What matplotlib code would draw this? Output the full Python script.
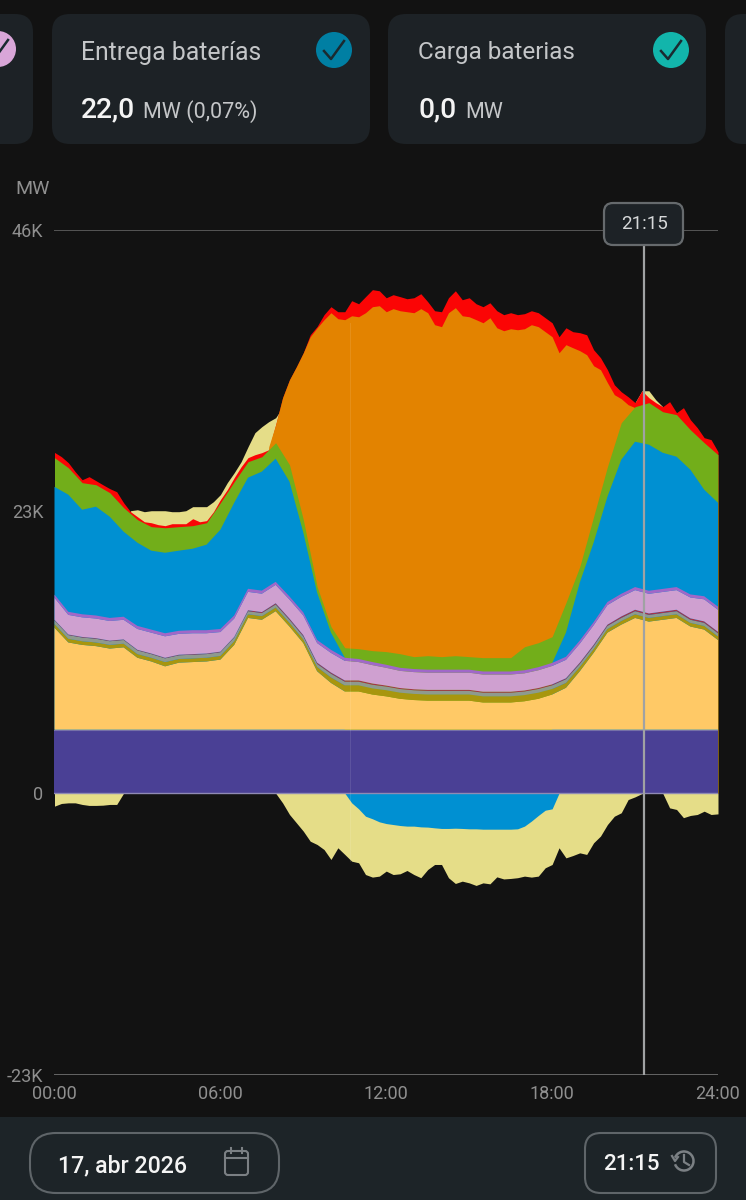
import numpy as np
import matplotlib
matplotlib.use("Agg")
import matplotlib.pyplot as plt
from matplotlib.patches import FancyBboxPatch, Circle, Arc

plt.rcParams['font.family'] = ['Roboto', 'DejaVu Sans']

# ---------- data (GW) ----------
hours_half = [h * 0.5 for h in range(49)]
hours_quarter = [h * 0.25 for h in range(97)]

nuclear = [5.18] * 49
yellow_top = [13.5, 12.3, 12.1, 12.0, 11.8, 11.9, 11.05, 10.75, 10.35, 10.65, 10.7, 10.75, 10.9, 12.1, 14.3, 14.15,
              14.85, 13.6, 12.25, 9.95, 9.0, 8.3, 8.3, 8.05, 7.9, 7.7, 7.6, 7.55, 7.55, 7.55, 7.55, 7.4,
              7.4, 7.4, 7.5, 7.7, 8.05, 8.6, 9.95, 11.45, 13.1, 13.75, 14.3, 14.0, 14.15, 14.3, 13.6, 13.35, 12.5]
olive = [.3, .3, .3, .3, .3, .3, .3, .3, .35, .3, .3, .3, .3, .3, .3, .3,
         .3, .3, .3, .35, .45, .5, .5, .5, .5, .5, .5, .5, .5, .5, .5, .5,
         .5, .5, .5, .5, .45, .4, .35, .3, .3, .3, .3, .3, .3, .3, .3, .3, .3]
gray = [.3, .3, .3, .3, .3, .3, .3, .3, .3, .3, .3, .3, .3, .3, .25, .25,
        .25, .25, .25, .25, .3, .3, .3, .3, .3, .3, .3, .3, .3, .3, .3, .3,
        .3, .3, .3, .3, .3, .3, .25, .25, .25, .25, .25, .25, .25, .25, .25, .25, .25]
dark_red = [.05, .05, .05, .05, .05, .05, .05, .05, .05, .05, .05, .05, .05, .05, .08, .08,
            .1, .1, .1, .1, .1, .1, .1, .1, .08, .08, .08, .08, .08, .08, .08, .08,
            .08, .08, .08, .08, .08, .08, .1, .1, .1, .12, .12, .12, .12, .12, .12, .12, .12]
pink = [1.8, 1.6, 1.6, 1.6, 1.6, 1.6, 1.7, 1.7, 1.75, 1.7, 1.7, 1.65, 1.6, 1.5, 1.5, 1.5,
        1.5, 1.55, 1.6, 1.6, 1.6, 1.6, 1.5, 1.5, 1.45, 1.4, 1.4, 1.4, 1.4, 1.4, 1.4, 1.4,
        1.4, 1.4, 1.4, 1.45, 1.5, 1.5, 1.55, 1.6, 1.6, 1.6, 1.6, 1.6, 1.6, 1.6, 1.7, 1.8, 1.8]
purple = [.25] * 49
blue_top = [25.0, 24.36, 23.13, 23.38, 22.56, 21.34, 20.44, 19.79, 19.62, 19.79, 19.95, 20.28, 21.5, 23.7, 25.75, 26.24,
            27.3, 25.42, 21.26, 16.36, 13.1, 11.06, np.nan, np.nan, np.nan, np.nan, np.nan, np.nan, np.nan, np.nan, np.nan, np.nan,
            np.nan, np.nan, np.nan, np.nan, 10.6, 13.1, 17.18, 20.44, 24.19, 27.21, 28.68, 28.44, 27.78, 27.46, 26.4, 24.77, 23.7]
green_top = [27.38, 26.56, 25.34, 25.17, 24.52, 23.3, 22.32, 21.75, 21.66, 21.75, 21.83, 22.07, 23.7, 25.42, 27.05, 27.46,
             28.6, 26.8, 22.32, 16.85, 13.59, 11.87, 11.79, 11.63, 11.55, 11.38, 11.14, 11.22, 11.14, 11.22, 11.14, 11.06,
             11.06, 11.06, 11.95, 12.28, 12.77, 15.55, 18.48, 22.56, 26.64, 30.23, 31.54, 31.87, 31.13, 30.89, 29.66, 28.6, 27.62]

red_top = [27.81, 27.46, 26.97, 26.23, 25.58, 25.83, 25.5, 25.17, 24.85, 24.6, 23.7, 22.97, 22.56, 22.15, 22.07, 21.91,
           21.83, 21.99, 21.99, 21.99, 22.4, 22.15, 22.24, 22.97, 23.95, 24.77, 25.75, 26.64, 27.38, 27.62, 27.79, 28.03,
           30.07, 32.27, 33.74, 34.8, 35.94, 37.41, 38.09, 39.05, 39.7, 39.29, 39.29, 40.19, 39.94, 40.52, 41.09, 41.0,
           40.43, 40.68, 40.52, 40.35, 40.43, 40.76, 40.11, 39.37, 39.29, 40.43, 41.0, 40.27, 40.43, 39.94, 39.7, 40.02,
           39.37, 39.05, 39.21, 39.05, 39.13, 39.37, 39.21, 38.8, 38.39, 37.25, 37.98, 37.66, 37.58, 37.41, 36.19, 35.54,
           34.56, 33.33, 32.76, 32.35, 31.87, 32.84, 32.27, 31.87, 31.54, 31.95, 31.05, 31.46, 30.48, 29.83, 29.01, 28.85, 27.87]

orange_hours = [7.75 + i * 0.25 for i in range(54)]
orange_top = [28.27, 30.07, 32.27, 33.74, 34.8, 35.94, 37.25, 37.98, 38.64, 39.21, 38.72, 38.64, 38.96, 38.88, 39.21, 39.7,
              39.78, 39.29, 39.54, 39.37, 39.29, 39.21, 39.54, 39.21, 38.23, 38.07, 39.21, 39.62, 38.96, 38.88, 38.64, 38.39,
              38.8, 37.98, 37.74, 37.9, 37.82, 37.9, 38.23, 38.07, 37.66, 37.25, 35.94, 36.6, 36.35, 36.11, 35.78, 34.88,
              34.56, 33.5, 32.52, 32.19, 31.7, 31.46]

pale_hours = [2.75 + i * 0.25 for i in range(23)]
pale_top = [23.05, 23.13, 22.97, 23.05, 23.05, 23.05, 22.97, 22.97, 23.05, 23.38, 23.38, 23.38, 23.79, 24.36, 25.34, 26.15,
            27.05, 28.27, 29.42, 29.91, 30.32, 30.64, 31.5]
pale_eve_hours = [21.0, 21.25, 21.5, 21.75, 22.0]
pale_eve_top = [31.87, 32.84, 32.84, 32.1, 31.54]

exports = [-1.06, -.84, -.79, -.79, -.92, -1.0, -1.0, -.98, -.92, -.92, 0, 0, 0, 0, 0, 0,
           0, 0, 0, 0, 0, 0, 0, 0, 0, 0, 0, 0, 0, 0, 0, 0,
           0, -.79, -1.74, -2.42, -3.1, -3.92, -4.19, -4.6, -5.41, -4.46, -5.0, -5.55, -5.68, -6.64, -6.85, -6.77,
           -6.36, -6.64, -6.58, -6.31, -6.64, -6.9, -6.23, -5.82, -5.82, -6.9, -7.37, -7.18, -7.32, -7.53, -7.32, -7.4,
           -6.83, -7.0, -6.96, -6.9, -6.77, -6.85, -6.77, -6.09, -5.82, -4.46, -5.28, -5.09, -4.87, -5.0, -4.05, -3.5,
           -2.56, -1.88, -1.6, -.52, -.3, -.03, 0, 0, 0, -1.2, -1.33, -2.0, -1.82, -1.74, -1.47, -1.74, -1.69]
pump_hours = [10.5 + i * 0.25 for i in range(32)]
pumping = [0, -.79, -1.28, -1.88, -2.09, -2.34, -2.48, -2.56, -2.64, -2.69, -2.69, -2.75, -2.77, -2.83, -2.88, -2.88,
           -2.86, -2.88, -2.91, -2.91, -2.94, -2.94, -2.94, -2.94, -2.94, -2.91, -2.69, -2.28, -1.82, -1.39, -1.28, 0]

y_ticks = [46, 23, 0, -23]
y_labels = ['46K', '23K', '0', '-23K']
x_ticks = [0, 6, 12, 18, 24]
x_labels = ['00:00', '06:00', '12:00', '18:00', '24:00']
cursor_hour = 21.32
cursor_label = '21:15'

# ---------- colours ----------
BG = '#121212'
CARD = '#1d2226'
BAR = '#1d2428'
C_NUC, C_YEL, C_OLI, C_GRY, C_DRD = '#4a4095', '#ffc966', '#a8960e', '#8f9a8e', '#a5324a'
C_PNK, C_PUR, C_BLU, C_GRN, C_ORG, C_RED, C_PAL = '#cfa0d0', '#a068c8', '#0090d2', '#72ae1a', '#e38300', '#fb0505', '#e5dd88'
W = 746
H = 1200

fig = plt.figure(figsize=(W / 100, H / 100), dpi=100, facecolor=BG)

# chrome behind chart
bg = fig.add_axes([0, 0, 1, 1], zorder=0)
bg.set_xlim(0, W); bg.set_ylim(H, 0); bg.axis('off')


def card(ax, x0, y0, x1, y1, r, fc, ec='none', lw=0, z=1):
    ax.add_patch(FancyBboxPatch((x0 + r, y0 + r), x1 - x0 - 2 * r, y1 - y0 - 2 * r,
                                boxstyle=f'round,pad={r},rounding_size={r}', fc=fc, ec=ec, lw=lw, zorder=z))


def check(ax, cx, cy, fc):
    ax.add_patch(Circle((cx, cy), 18, fc=fc, ec='none', zorder=2))
    ax.plot([cx - 10, cx - 3, cx + 10], [cy + 1, cy + 9, cy - 9], color='#1a2a30', lw=1.8, zorder=3)


card(bg, -20, 14, 33, 144, 18, CARD)
card(bg, 52, 14, 370, 144, 18, CARD)
card(bg, 388, 14, 706, 144, 18, CARD)
card(bg, 725, 14, 780, 144, 18, CARD)
check(bg, -2, 49, '#d9a6d8')
check(bg, 334, 50, '#007fa3')
check(bg, 671, 50, '#12b5ab')
bg.text(81, 53, 'Entrega baterías', color='#c4c6c8', fontsize=17.8, va='center')
bg.text(418, 53, 'Carga baterias', color='#c4c6c8', fontsize=17.5, va='center')
bg.text(81, 110, '22,0', color='#f4f4f4', fontsize=20.3, va='center', weight='medium')
bg.text(143, 112, 'MW (0,07%)', color='#c4c6c8', fontsize=15.5, va='center')
bg.text(418, 110, '0,0', color='#f4f4f4', fontsize=20.3, va='center', weight='medium')
bg.text(465, 112, 'MW', color='#c4c6c8', fontsize=15.5, va='center')
bg.text(15, 189, 'MW', color='#8f8f8f', fontsize=14, va='center')

bg.add_patch(plt.Rectangle((0, 1117), W, 83, fc=BAR, ec='none', zorder=1))
card(bg, 30, 1133, 279, 1193, 26, BAR, ec='#5f6569', lw=1.5, z=2)
card(bg, 585, 1133, 716, 1193, 16, BAR, ec='#5f6569', lw=1.5, z=2)
bg.text(58, 1166, '17, abr 2026', color='#f4f4f4', fontsize=16.7, va='center', weight='medium', zorder=3)
bg.text(603, 1164, cursor_label, color='#f4f4f4', fontsize=16, va='center', weight='medium', zorder=3)
# calendar icon
card(bg, 225, 1151, 248, 1175, 3, BAR, ec='#7b8084', lw=1.5, z=3)
bg.plot([225, 248], [1158, 1158], color='#7b8084', lw=1.5, zorder=4)
bg.plot([231, 231], [1148, 1153], color='#7b8084', lw=1.5, zorder=4)
bg.plot([242, 242], [1148, 1153], color='#7b8084', lw=1.5, zorder=4)
# history icon
bg.add_patch(Arc((684, 1161), 19, 19, theta1=-180 + 20, theta2=160, color='#7b8084', lw=1.8, zorder=3))
bg.plot([684, 684, 689], [1155, 1162, 1165], color='#7b8084', lw=1.6, zorder=4)
bg.plot([672, 675, 678], [1156, 1161, 1157], color='#7b8084', lw=1.6, zorder=4)

# main chart
ax = fig.add_axes([54.5 / W, 1 - 1075 / H, (718 - 54.5) / W, (1075 - 229.5) / H], zorder=2)
ax.patch.set_alpha(0)
ax.set_xlim(0, 24)
ax.set_ylim(-23, 46)
for s in ax.spines.values():
    s.set_visible(False)
ax.set_xticks(x_ticks, x_labels)
ax.set_yticks(y_ticks, y_labels)
ax.tick_params(length=0, colors='#8f8f8f', labelsize=13)
ax.tick_params(axis='x', pad=7)
ax.tick_params(axis='y', pad=8)
ax.axhline(46, color='#555555', lw=1.4, zorder=1)
ax.axhline(-23, color='#7d7d7d', lw=1.8, zorder=1)

ax.fill_between(pale_hours, 0, pale_top, color=C_PAL, lw=0, zorder=2)
ax.fill_between(pale_eve_hours, 0, pale_eve_top, color=C_PAL, lw=0, zorder=2)
ax.fill_between(hours_quarter, 0, red_top, color=C_RED, lw=0, zorder=3)
ax.fill_between(orange_hours, 0, orange_top, color=C_ORG, lw=0, zorder=4)
ax.fill_between(hours_half, 0, green_top, color=C_GRN, lw=0, zorder=5)
ax.fill_between(hours_half, 0, blue_top, color=C_BLU, lw=0, zorder=6)
yellow = np.array(yellow_top) - np.array(nuclear)
ax.stackplot(hours_half, nuclear, yellow, olive, gray, dark_red, pink, purple,
             colors=[C_NUC, C_YEL, C_OLI, C_GRY, C_DRD, C_PNK, C_PUR], lw=0, zorder=7)
ax.fill_between(hours_quarter, 0, exports, color=C_PAL, lw=0, zorder=7)
ax.fill_between(pump_hours, 0, pumping, color=C_BLU, lw=0, zorder=8)
ax.plot([0, 24], [nuclear[0], nuclear[-1]], color='#7670a8', lw=0.8, zorder=8)
ax.plot([0, 24], [0, 0], color='#8f8ab4', lw=1, zorder=8)
ax.plot([10.68, 10.68], [-5.5, 38.4], color='#ffffff', alpha=0.1, lw=0.8, zorder=9)
ax.plot([cursor_hour, cursor_hour], [-23, 46], color='#a0a2a3', lw=1.6, zorder=9)

# tooltip
fg = fig.add_axes([0, 0, 1, 1], zorder=3)
fg.patch.set_alpha(0)
fg.set_xlim(0, W); fg.set_ylim(H, 0); fg.axis('off')
card(fg, 604, 203, 683, 245, 9, CARD, ec='#666a6d', lw=1.6, z=2)
fg.text(644, 224, cursor_label, color='#d6d8d9', fontsize=13.5, va='center', ha='center', zorder=3)

fig.savefig('out.png', dpi=100, facecolor=BG)
